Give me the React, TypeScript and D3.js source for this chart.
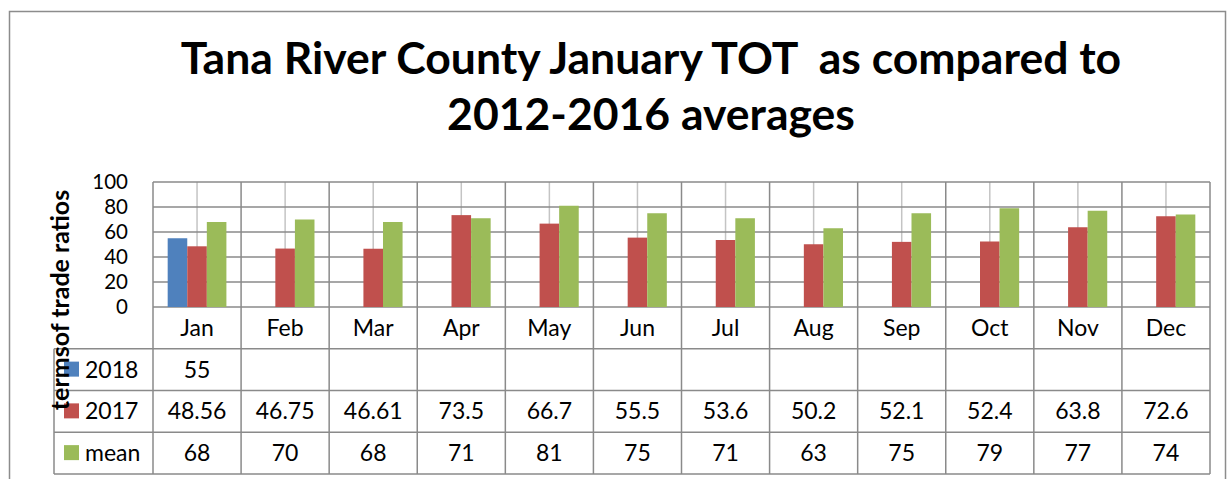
import React from "react";
import * as d3 from "d3";

const months = ["Jan","Feb","Mar","Apr","May","Jun","Jul","Aug","Sep","Oct","Nov","Dec"];
const seriesNames = ["2018","2017","mean"];
const values2018: (number | null)[] = [55,null,null,null,null,null,null,null,null,null,null,null];
const values2017: (number | null)[] = [48.56,46.75,46.61,73.5,66.7,55.5,53.6,50.2,52.1,52.4,63.8,72.6];
const valuesMean: (number | null)[] = [68,70,68,71,81,75,71,63,75,79,77,74];
const yTicks = [0,20,40,60,80,100];
const colors = ["#4F81BD","#C0504D","#9BBB59"];
const titleLines = ["Tana River County January TOT  as compared to","2012-2016 averages"];
const yTitle = "termsof trade ratios";

const W = 1227, H = 479;
const plotL = 153, plotR = 1210, plotT = 182, plotB = 307;
const rowH = 41.75;
const tableL = 54;
const FONT = "Lato, 'Open Sans', sans-serif";

export default function App() {
  const series = [values2018, values2017, valuesMean];
  const x = d3.scaleBand<string>().domain(months).range([plotL, plotR]).paddingInner(0).paddingOuter(0);
  const xi = d3.scaleBand<string>().domain(seriesNames).range([0, x.bandwidth()]).paddingInner(0).paddingOuter(0.75);
  const y = d3.scaleLinear().domain([0, 100]).range([plotB, plotT]);
  const rows = [plotB, plotB + rowH, plotB + 2 * rowH, plotB + 3 * rowH, plotB + 4 * rowH];
  const dark = "#8A8A8A";
  const light = "#C4C4C4";
  const fmt = (v: number | null) => (v === null ? "" : String(v));

  return (
    <svg width={W} height={H} style={{ position: "absolute", left: 0, top: 0, background: "#fff" }}>
      <rect x={9.5} y={11.5} width={1216} height={480} fill="#fff" stroke="#8C8C8C" strokeWidth={1.5} />
      {titleLines.map((t, i) => (
        <text key={i} x={651} y={74 + i * 56} textAnchor="middle" fontFamily={FONT} fontWeight="bold" fontSize={44.5} fill="#000" style={{ whiteSpace: "pre" }}>
          {t}
        </text>
      ))}
      {/* light vertical center lines */}
      {months.map((m) => (
        <line key={"c" + m} x1={x(m)! + x.bandwidth() / 2} x2={x(m)! + x.bandwidth() / 2} y1={plotT} y2={plotB} stroke={light} strokeWidth={1.5} />
      ))}
      {/* horizontal gridlines */}
      {yTicks.map((t) => (
        <line key={"h" + t} x1={plotL} x2={plotR} y1={y(t)} y2={y(t)} stroke={dark} strokeWidth={1.5} />
      ))}
      {/* vertical category boundaries */}
      {months.map((m) => (
        <line key={"v" + m} x1={x(m)!} x2={x(m)!} y1={plotT} y2={rows[4]} stroke={dark} strokeWidth={1.5} />
      ))}
      <line x1={plotR} x2={plotR} y1={plotT} y2={rows[4]} stroke={dark} strokeWidth={1.5} />
      {/* table lines */}
      {rows.slice(1).map((r, i) => (
        <line key={"r" + i} x1={tableL} x2={plotR} y1={r} y2={r} stroke={dark} strokeWidth={1.5} />
      ))}
      <line x1={tableL} x2={tableL} y1={rows[1]} y2={rows[4]} stroke={dark} strokeWidth={1.5} />
      {/* bars */}
      {series.map((vals, si) =>
        vals.map((v, mi) =>
          v === null ? null : (
            <rect
              key={si + "-" + mi}
              x={x(months[mi])! + xi(seriesNames[si])!}
              y={y(v)}
              width={xi.bandwidth()}
              height={y(0) - y(v)}
              fill={colors[si]}
            />
          )
        )
      )}
      {/* y tick labels */}
      {yTicks.map((t) => (
        <text key={"yt" + t} x={128} y={y(t) + 7} textAnchor="end" fontFamily={FONT} fontSize={20.5} fill="#000">
          {t}
        </text>
      ))}
      {/* category labels */}
      {months.map((m) => (
        <text key={"cl" + m} x={x(m)! + x.bandwidth() / 2} y={rows[0] + rowH / 2 + 8} textAnchor="middle" fontFamily={FONT} fontSize={23} fill="#000">
          {m}
        </text>
      ))}
      {/* table values */}
      {series.map((vals, si) =>
        vals.map((v, mi) => (
          <text key={"tv" + si + mi} x={x(months[mi])! + x.bandwidth() / 2} y={rows[si + 1] + rowH / 2 + 8} textAnchor="middle" fontFamily={FONT} fontSize={23} fill="#000">
            {fmt(v)}
          </text>
        ))
      )}
      {/* row headers with legend keys */}
      {seriesNames.map((s, si) => (
        <g key={"rh" + s}>
          <rect x={64} y={rows[si + 1] + rowH / 2 - 8} width={15} height={15} fill={colors[si]} />
          <text x={85} y={rows[si + 1] + rowH / 2 + 8} fontFamily={FONT} fontSize={23} fill="#000">
            {s}
          </text>
        </g>
      ))}
      {/* y axis title */}
      <text transform="translate(69,300) rotate(-90)" textAnchor="middle" fontFamily={FONT} fontWeight="bold" fontSize={25} fill="#000">
        {yTitle}
      </text>
    </svg>
  );
}
